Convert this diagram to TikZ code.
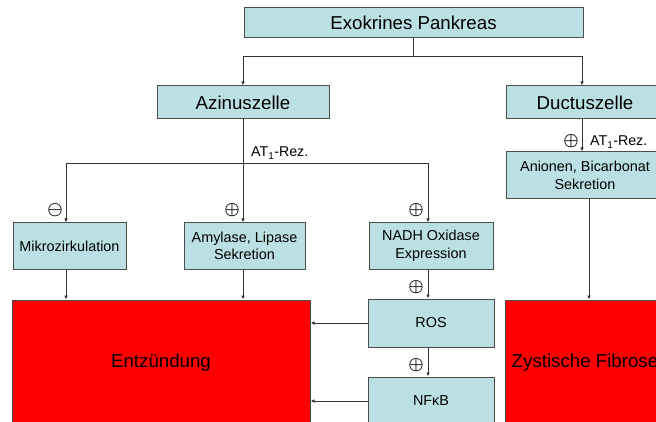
\documentclass[tikz,border=0pt]{standalone}
\usepackage{fontspec}
\setmainfont{Liberation Sans}
\usepackage{amsmath}
\usetikzlibrary{arrows.meta,positioning}
\definecolor{cellfill}{RGB}{187,224,227}
\definecolor{hotred}{RGB}{255,0,0}
\tikzset{
	x=1pt, y=-1pt,
	every node/.style = {inner sep=0pt, text=black},
	cell/.style = {draw=black!70, line width=1pt, rectangle, fill=cellfill, align=center,
		font=\fontsize{18.7}{22}\selectfont},
	effect/.style = {cell, font=\fontsize{14.4}{17.5}\selectfont},
	result/.style = {cell, fill=hotred},
	sign/.style = {font=\fontsize{16}{16}\selectfont},
	rez/.style = {anchor=base west, font=\fontsize{14.2}{16}\selectfont},
	link/.style = {draw=black!80, line width=0.8pt},
	arr/.style = {link, -{Latex[length=4pt,width=3.5pt]}}
}

\begin{document}
\begin{tikzpicture}
	\useasboundingbox (0,0) rectangle (656,422);
	% boxes
	\node[cell, minimum width=339pt, minimum height=30pt] (pank) at (413.5,23) {Exokrines Pankreas};
	\node[cell, minimum width=172pt, minimum height=33pt] (azin) at (243,102.5) {Azinuszelle};
	\node[cell, minimum width=158pt, minimum height=33pt] (duct) at (585,102.5) {Ductuszelle};
	\node[effect, minimum width=158pt, minimum height=47pt] (anion) at (585,175.5) {Anionen, Bicarbonat\\Sekretion};
	\node[effect, minimum width=113pt, minimum height=46pt] (mikro) at (69.5,246) {Mikrozirkulation};
	\node[effect, minimum width=121pt, minimum height=46pt] (amyl) at (244.5,246) {Amylase, Lipase\\Sekretion};
	\node[effect, minimum width=124pt, minimum height=46pt] (nadh) at (431,246) {NADH Oxidase\\Expression};
	\node[effect, minimum width=126pt, minimum height=48pt] (ros) at (431,323) {ROS};
	\node[effect, minimum width=126pt, minimum height=48pt] (nfkb) at (431,401) {NFκB};
	\node[result, minimum width=298pt, minimum height=126pt] (entz) at (161,363) {Entzündung};
	\node[result, minimum width=160pt, minimum height=126pt] (zyst) at (585,363) {Zystische Fibrose};
	% connectors
	\draw[link] (pank.south) -- ++(0,18) coordinate (fork);
	\draw[arr] (fork) -| (azin.north);
	\draw[arr] (fork) -| ([xshift=-3pt]duct.north);
	\coordinate (hub) at (243,163);
	\draw[link] (azin.south) -- (hub);
	\draw[arr] (hub) -| ([xshift=-3.5pt]mikro.north);
	\draw[arr] (hub) -- (hub |- amyl.north);
	\draw[arr] (hub) -| ([xshift=-3pt]nadh.north);
	\draw[arr] ([xshift=-3pt]duct.south) -- ([xshift=-3pt]anion.north);
	\draw[arr] ([xshift=4pt]anion.south) -- ([xshift=4pt]anion.south |- zyst.north);
	\draw[arr] ([xshift=-3.5pt]mikro.south) -- ([xshift=-3.5pt]mikro.south |- entz.north);
	\draw[arr] (hub |- amyl.south) -- (hub |- entz.north);
	\draw[arr] ([xshift=-3pt]nadh.south) -- ([xshift=-3pt]ros.north);
	\draw[arr] ([xshift=-3pt]ros.south) -- ([xshift=-3pt]nfkb.north);
	\draw[arr] (ros.west) -- (ros.west -| entz.east);
	\draw[arr] (nfkb.west) -- (nfkb.west -| entz.east);
	% labels
	\node[rez] (rezazin) at (251,157) {AT\textsubscript{1}-Rez.};
	\node[rez] (rezduct) at (590,146) {AT\textsubscript{1}-Rez.};
	\node[sign] (mminus) at (55,210) {$\boldsymbol{\ominus}$};
	\node[sign] (aplus) at (232,210) {$\boldsymbol{\oplus}$};
	\node[sign] (nplus) at (416,210) {$\boldsymbol{\oplus}$};
	\node[sign] (rplus) at (416,287) {$\boldsymbol{\oplus}$};
	\node[sign] (fplus) at (416,365) {$\boldsymbol{\oplus}$};
	\node[sign] (dplus) at (571,141) {$\boldsymbol{\oplus}$};
\end{tikzpicture}
\end{document}
